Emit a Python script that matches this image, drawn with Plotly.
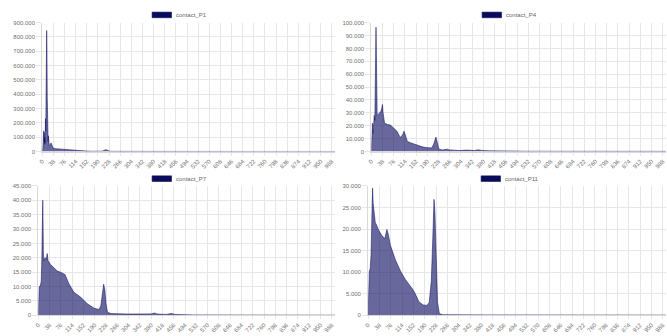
import plotly.graph_objects as go

W, H = 667, 336

# ---- data: contact histograms, value per bin index ----
P1_X = [0, 2, 4, 5, 6, 7, 8, 9, 10, 11, 12, 13, 14, 15, 16, 17, 18, 19, 20, 21, 22, 24, 26, 28, 30,
        32, 34, 37, 45, 55, 65, 75, 85, 95, 110, 130, 150, 170, 195, 205, 211, 217, 223, 229, 240,
        280, 350, 500, 700, 850, 999]
P1_Y = [0, 30000, 110000, 145000, 70000, 135000, 50000, 95000, 60000, 230000, 140000, 410000,
        660000, 845000, 710000, 380000, 150000, 250000, 70000, 110000, 45000, 38000, 42000, 55000,
        60000, 50000, 32000, 24000, 20000, 18000, 17000, 14000, 11000, 9000, 7000, 5000, 3000, 1800,
        1500, 2500, 8000, 12000, 9000, 2500, 1000, 600, 400, 300, 200, 150, 100]

P4_X = [0, 2, 4, 6, 8, 10, 12, 14, 15, 16, 17, 18, 20, 24, 28, 32, 35, 38, 40, 42, 45, 55, 65, 72,
        80, 88, 95, 100, 106, 111, 116, 122, 130, 145, 160, 175, 190, 205, 212, 219, 224, 229, 240,
        250, 258, 265, 280, 300, 322, 335, 350, 362, 375, 400, 440, 462, 480, 520, 700, 999]
P4_Y = [0, 16000, 22000, 14000, 25000, 28000, 24000, 45000, 78000, 96500, 80000, 40000, 28000,
        29000, 30000, 31000, 33000, 36500, 30000, 24000, 22000, 21000, 20500, 19000, 17000, 15500,
        12000, 11000, 13000, 15800, 12500, 8000, 7000, 5800, 4500, 3500, 3000, 2800, 6000, 11200,
        7000, 2000, 1200, 1500, 1800, 1200, 900, 800, 1100, 700, 800, 1300, 800, 500, 500, 900,
        400, 200, 150, 100]

P7_X = [0, 2, 3, 7, 10, 12, 14, 15, 16, 17, 19, 23, 27, 30, 33, 41, 52, 64, 75, 90, 103, 120, 143,
        165, 188, 205, 211, 216, 220, 224, 228, 233, 245, 300, 350, 380, 391, 400, 430, 448, 460,
        520, 700, 999]
P7_Y = [0, 8000, 10000, 10200, 12000, 20000, 33000, 40000, 33000, 22000, 19000, 20000, 19500,
        21500, 19000, 17700, 16600, 15400, 15000, 14200, 11000, 8000, 6300, 4000, 2500, 2000, 3500,
        9000, 10800, 9000, 4000, 1100, 600, 450, 350, 500, 800, 450, 300, 650, 300, 150, 100, 50]

P11_X = [0, 2, 4, 7, 10, 13, 15, 17, 20, 24, 28, 35, 46, 56, 60, 63, 67, 75, 92, 109, 125, 142,
         150, 158, 171, 185, 197, 205, 212, 217, 221, 224, 228, 233, 239, 250, 400, 999]
P11_Y = [0, 6000, 10200, 10800, 14000, 24000, 29500, 26000, 23500, 21500, 21000, 19800, 18500,
         17800, 19000, 19900, 19000, 16200, 12800, 10200, 8300, 6800, 6000, 5000, 3100, 2400, 2300,
         3000, 8000, 18000, 26900, 24000, 12000, 3000, 400, 150, 100, 50]

X_TICKS = [0, 38, 76, 114, 152, 190, 228, 266, 304, 342, 380, 418, 456, 494, 532, 570, 608, 646,
           684, 722, 760, 798, 836, 874, 912, 950, 988]
X_MAX = 999

SERIES = [
    # name, x, y, y max, y step
    ("contact_P1", P1_X, P1_Y, 900000, 100000),
    ("contact_P4", P4_X, P4_Y, 100000, 10000),
    ("contact_P7", P7_X, P7_Y, 45000, 5000),
    ("contact_P11", P11_X, P11_Y, 30000, 5000),
]

# plot-area boxes in pixels: left, right, top, bottom
BOXES = [
    (38.5, 333, 20, 151.2),
    (369.5, 666, 20, 151.2),
    (34.5, 333, 186.3, 318),
    (366.3, 666, 186.3, 318),
]
# legend swatch positions (left, top) in pixels
LEGENDS = [(149, 9.3), (481, 9.3), (149, 176), (480, 176)]

FILL = "rgba(12,12,96,0.62)"
EDGE = "rgba(12,12,96,0.75)"
SWATCH = "#0b0b5c"
GRID = "#e6e6e6"
TICK_FONT = dict(family="Liberation Sans, Arial, sans-serif", size=6, color="#707070")


def px(x):
    return x / W


def py(y):
    return 1 - y / H


fig = go.Figure()
shapes, annotations = [], []

for i, ((name, xs, ys, ymax, ystep), (l, r, t, b), (lx, ly)) in enumerate(zip(SERIES, BOXES, LEGENDS)):
    suffix = "" if i == 0 else str(i + 1)
    fig.add_trace(go.Scatter(
        x=xs, y=ys, name=name, mode="lines",
        fill="tozeroy", fillcolor=FILL,
        line=dict(color=EDGE, width=0.7),
        xaxis="x" + suffix, yaxis="y" + suffix,
        showlegend=False, hoverinfo="x+y",
    ))
    common = dict(
        showgrid=True, gridcolor=GRID, gridwidth=1,
        zeroline=False, showline=True, linecolor="#d9d9d9", linewidth=1,
        ticks="outside", tickcolor=GRID, tickfont=TICK_FONT, fixedrange=True,
    )
    fig.update_layout(**{
        "xaxis" + suffix: dict(
            common, domain=[px(l), px(r)], range=[0, X_MAX], anchor="y" + suffix,
            tickmode="array", tickvals=X_TICKS, ticktext=[str(v) for v in X_TICKS],
            tickangle=-45, ticklen=3,
        ),
        "yaxis" + suffix: dict(
            common, domain=[py(b), py(t)], range=[0, ymax], anchor="x" + suffix,
            tick0=0, dtick=ystep, tickformat=",", ticklen=5,
        ),
    })
    shapes.append(dict(
        type="rect", xref="paper", yref="paper",
        x0=px(lx), x1=px(lx + 19.5), y0=py(ly + 5.7), y1=py(ly),
        fillcolor=SWATCH, line=dict(width=0.6, color=SWATCH),
    ))
    annotations.append(dict(
        text=name, xref="paper", yref="paper", x=px(lx + 22.5), y=py(ly + 2.9),
        xanchor="left", yanchor="middle", showarrow=False,
        font=dict(family="Liberation Sans, Arial, sans-serif", size=6, color="#666666"),
    ))

fig.update_layout(
    width=W, height=H,
    margin=dict(l=0, r=0, t=0, b=0),
    paper_bgcolor="white", plot_bgcolor="white",
    separators=",.",
    shapes=shapes, annotations=annotations,
    showlegend=False,
)

fig.write_html("out.html", config={"displayModeBar": False})
